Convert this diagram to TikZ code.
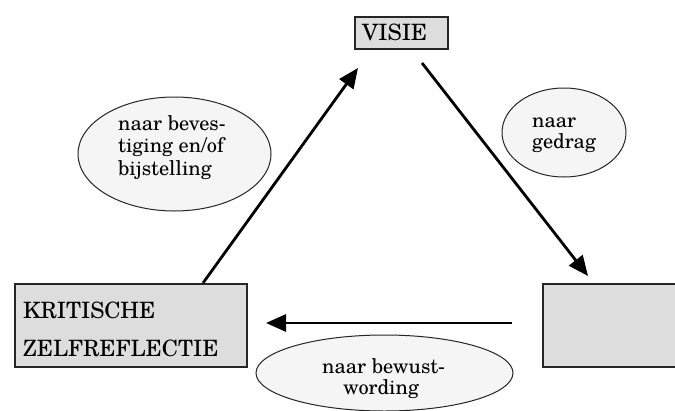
\documentclass[tikz,border=0pt]{standalone}
\usepackage{fontspec}
\setmainfont{TeX Gyre Schola}
\usetikzlibrary{arrows.meta,shapes.geometric}
\definecolor{boxgray}{HTML}{DDDDDD}
\definecolor{ellgray}{HTML}{F5F5F5}
\tikzset{
  boxnode/.style={draw=black!85, line width=1.1pt, fill=boxgray, rectangle, inner sep=0pt},
  bubble/.style={draw=black!85, line width=1pt, fill=ellgray, ellipse, inner sep=0pt},
  boxtxt/.style={anchor=base west, inner sep=0pt, font=\fontsize{22.5}{25}\selectfont},
  elltxt/.style={anchor=base west, inner sep=0pt, font=\fontsize{20.3}{22}\selectfont},
  flow/.style={line width=2.8pt, -{Triangle[length=20pt,width=17pt]}}
}
\begin{document}
\begin{tikzpicture}[x=1pt,y=-1pt]
\clip (0,0) rectangle (675,410);
\fill[white] (0,0) rectangle (675,410);
% boxes
\node[boxnode, minimum width=93pt, minimum height=32pt] (visie) at (401.5,33) {};
\node[boxnode, minimum width=232pt, minimum height=83pt] (kritisch) at (131,325.5) {};
\node[boxnode, minimum width=140pt, minimum height=83pt] (gedrag) at (613,325.5) {};
\node[boxtxt] (tvisie) at (362,40) {VISIE};
\node[boxtxt] (tkrit1) at (23,318) {KRITISCHE};
\node[boxtxt] (tkrit2) at (23,356) {ZELFREFLECTIE};
% ellipses
\node[bubble, minimum width=193pt, minimum height=114pt] (e1) at (174.5,154) {};
\node[bubble, minimum width=124pt, minimum height=89pt] (e2) at (564,132.5) {};
\node[bubble, minimum width=257pt, minimum height=76pt] (e3) at (384.5,373) {};
\node[elltxt] (e1a) at (118,130) {naar beves-};
\node[elltxt] (e1b) at (118,152.5) {tiging en/of};
\node[elltxt] (e1c) at (118,175) {bijstelling};
\node[elltxt] (e2a) at (532,127) {naar};
\node[elltxt] (e2b) at (532,148) {gedrag};
\node[elltxt] (e3a) at (322,373) {naar bewust-};
\node[elltxt] (e3b) at (343,394) {wording};
% arrow end points
\coordinate (upS) at (203,283);
\coordinate (upE) at (358,68);
\coordinate (dnS) at (422,63);
\coordinate (dnE) at (588,276);
\coordinate (lfS) at (512,323);
\coordinate (lfE) at (266,323);
\draw[flow] (upS) -- (upE);
\draw[flow] (dnS) -- (dnE);
\draw[flow] (lfS) -- (lfE);
\end{tikzpicture}
\end{document}
